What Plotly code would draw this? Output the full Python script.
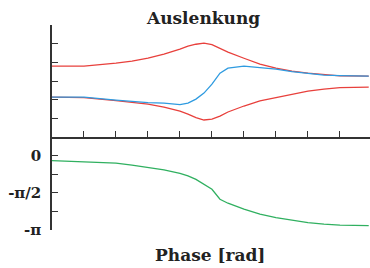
import plotly.graph_objects as go
import math

x = [0, 1, 2, 2.5, 3, 3.5, 4, 4.25, 4.5, 4.75, 5, 5.25, 5.5, 6, 6.5, 7, 7.5, 8, 8.5, 9, 9.9]
red_upper = [3.80, 3.80, 3.96, 4.06, 4.22, 4.44, 4.71, 4.87, 4.97, 5.03, 4.95, 4.76, 4.55, 4.22, 3.90, 3.69, 3.53, 3.42, 3.34, 3.28, 3.26]
blue = [2.14, 2.14, 1.98, 1.90, 1.84, 1.82, 1.74, 1.82, 2.03, 2.35, 2.83, 3.42, 3.69, 3.80, 3.74, 3.64, 3.50, 3.40, 3.32, 3.29, 3.26]
red_lower = [2.14, 2.11, 1.95, 1.87, 1.76, 1.60, 1.39, 1.23, 1.04, 0.91, 0.96, 1.12, 1.34, 1.66, 1.93, 2.11, 2.30, 2.46, 2.57, 2.65, 2.67]
phase = [-0.209, -0.251, -0.314, -0.398, -0.503, -0.607, -0.754, -0.859, -1.005, -1.215, -1.424, -1.843, -2.011, -2.262, -2.471, -2.618, -2.723, -2.827, -2.890, -2.932, -2.953]

phase_tickvals = [0, -math.pi / 4, -math.pi / 2, -3 * math.pi / 4, -math.pi]
phase_ticktext = ["<b>0</b>", "", "<b>-π/2</b>", "", "<b>-π</b>"]

RED = "#e8403c"
BLUE = "#2f9be0"
GREEN = "#30b060"
AX = "#333333"
FONT = "DejaVu Serif"

fig = go.Figure()
fig.add_trace(go.Scatter(x=x, y=red_upper, mode="lines", line=dict(color=RED, width=1.3), xaxis="x", yaxis="y"))
fig.add_trace(go.Scatter(x=x, y=red_lower, mode="lines", line=dict(color=RED, width=1.3), xaxis="x", yaxis="y"))
fig.add_trace(go.Scatter(x=x, y=blue, mode="lines", line=dict(color=BLUE, width=1.3), xaxis="x", yaxis="y"))
fig.add_trace(go.Scatter(x=x, y=phase, mode="lines", line=dict(color=GREEN, width=1.3), xaxis="x2", yaxis="y2"))

fig.update_layout(
    width=370, height=268,
    margin=dict(l=52, r=0, t=0, b=0, autoexpand=False),
    paper_bgcolor="white", plot_bgcolor="white",
    showlegend=False,
    font=dict(family=FONT, color="#222222"),
    xaxis=dict(domain=[0, 1], range=[0, 9.94], showgrid=False, zeroline=False,
               showline=True, linecolor=AX, linewidth=1.5,
               ticks="inside", ticklen=6, tickcolor=AX, tickwidth=1,
               tickvals=list(range(10)), showticklabels=False, anchor="y", automargin=False),
    yaxis=dict(domain=[0.4888, 0.9067], range=[0, 6], showgrid=False, zeroline=False,
               showline=True, linecolor=AX, linewidth=1.5,
               ticks="inside", ticklen=6, tickcolor=AX, tickwidth=1,
               tickvals=[0, 1, 2, 3, 4, 5, 6], showticklabels=False, anchor="x", automargin=False),
    xaxis2=dict(domain=[0, 1], range=[0, 9.94], showgrid=False, zeroline=False,
                showline=False, showticklabels=False, ticks="", anchor="y2", automargin=False),
    yaxis2=dict(domain=[0.1418, 0.4888], range=[-math.pi, math.pi / 4], showgrid=False, zeroline=False,
                showline=True, linecolor=AX, linewidth=1.5,
                ticks="inside", ticklen=6, tickcolor=AX, tickwidth=1,
                tickvals=phase_tickvals, ticktext=phase_ticktext,
                tickfont=dict(family=FONT, size=15, color="#222222"),
                ticklabelstandoff=6, anchor="x2", automargin=False),
    annotations=[
        dict(text="<b>Auslenkung</b>", xref="paper", yref="paper", x=0.475, y=0.933,
             xanchor="center", yanchor="middle", showarrow=False,
             font=dict(family=FONT, size=17, color="#222222")),
        dict(text="<b>Phase [rad]</b>", xref="paper", yref="paper", x=0.497, y=0.0485,
             xanchor="center", yanchor="middle", showarrow=False,
             font=dict(family=FONT, size=17, color="#222222")),
    ],
)

fig.write_html("out.html", config={"displayModeBar": False},
               post_script="document.body.style.margin='0';document.body.style.overflow='hidden';")
